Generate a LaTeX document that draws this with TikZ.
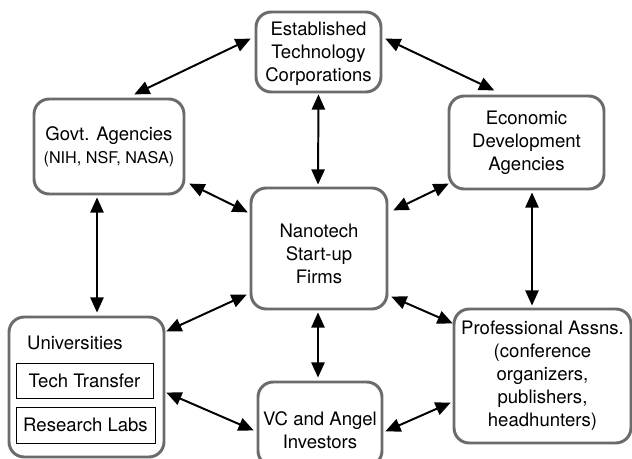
\documentclass[tikz,border=0pt]{standalone}
\usepackage{fontspec}
\setmainfont{TeX Gyre Heros}
\usetikzlibrary{arrows.meta}

\tikzset{
  actor/.style={draw=black!58,line width=2.1pt,rounded corners=3.8mm,fill=white,
    align=center,inner sep=0pt,outer sep=0pt,font=\fontsize{13.2}{16.3}\selectfont},
  subbox/.style={draw=black,line width=0.7pt,inner sep=0pt,outer sep=0pt,
    font=\fontsize{13.2}{16.3}\selectfont},
  link/.style={{Triangle[length=3.8mm,width=3.3mm]}-{Triangle[length=3.8mm,width=3.3mm]},
    line width=1.4pt,black,shorten <=1pt,shorten >=1pt}
}

\begin{document}
\begin{tikzpicture}[x=0.025cm,y=-0.025cm]
    \useasboundingbox (0,0) rectangle (632,459);
    % Actors
    \node[actor,minimum width=125*0.025cm,minimum height=80*0.025cm] (estab) at (318.5,52)
        {\\[-4pt]Established\\Technology\\Corporations};
    \node[actor,minimum width=150*0.025cm,minimum height=95*0.025cm] (govt) at (109,146.5)
        {Govt. Agencies\\{\fontsize{11.5}{14}\selectfont (NIH, NSF, NASA)}};
    \node[actor,minimum width=155*0.025cm,minimum height=93*0.025cm] (econ) at (526.5,142.5)
        {Economic\\Development\\Agencies};
    \node[actor,minimum width=136*0.025cm,minimum height=121*0.025cm] (nano) at (319,248.5)
        {\\[1pt]Nanotech\\Start-up\\Firms};
    \node[actor,minimum width=155*0.025cm,minimum height=140*0.025cm] (univ) at (86.5,387) {};
    \node[actor,minimum width=124*0.025cm,minimum height=84*0.025cm] (vc) at (320,424)
        {\\[2pt]VC and Angel\\Investors};
    \node[actor,minimum width=177*0.025cm,minimum height=134*0.025cm] (prof) at (542.5,376)
        {Professional Assns.\\(conference\\organizers,\\publishers,\\headhunters)};
    % Inside the universities box
    \node[font=\fontsize{13.2}{16.3}\selectfont] (univlbl) at (75,343) {Universities};
    \node[subbox,minimum width=137*0.025cm,minimum height=35*0.025cm] (tech) at (84.5,380.5)
        {Tech Transfer};
    \node[subbox,minimum width=139*0.025cm,minimum height=36*0.025cm] (labs) at (85.5,425)
        {Research Labs};
    % Links
    \draw[link] ([shift={(24,-4)}]govt.north) -- ([shift={(-4,-14)}]estab.west);
    \draw[link] ([shift={(3,-14)}]estab.east) -- ([shift={(-31,-5)}]econ.north);
    \draw[link] ([shift={(0,1)}]estab.south) -- ([shift={(-1,-2)}]nano.north);
    \draw[link] ([shift={(4,-11)}]govt.south east) -- ([shift={(-2,-35.5)}]nano.west);
    \draw[link] ([shift={(5,-37.5)}]nano.east) -- ([shift={(1,-6)}]econ.south west);
    \draw[link] ([shift={(-12,2)}]govt.south) -- ([shift={(10.5,-3)}]univ.north);
    \draw[link] ([shift={(5.5,2)}]econ.south) -- ([shift={(-10.5,-2)}]prof.north);
    \draw[link] ([shift={(1,15)}]univ.north east) -- ([shift={(-3,-15)}]nano.south west);
    \draw[link] ([shift={(-1,2)}]nano.south) -- ([shift={(-2,-3)}]vc.north);
    \draw[link] ([shift={(3,-13)}]nano.south east) -- ([shift={(0,15)}]prof.north west);
    \draw[link] ([shift={(1,5)}]univ.east) -- ([shift={(-3,7)}]vc.west);
    \draw[link] ([shift={(2,8)}]vc.east) -- ([shift={(-2,26)}]prof.west);
\end{tikzpicture}
\end{document}
